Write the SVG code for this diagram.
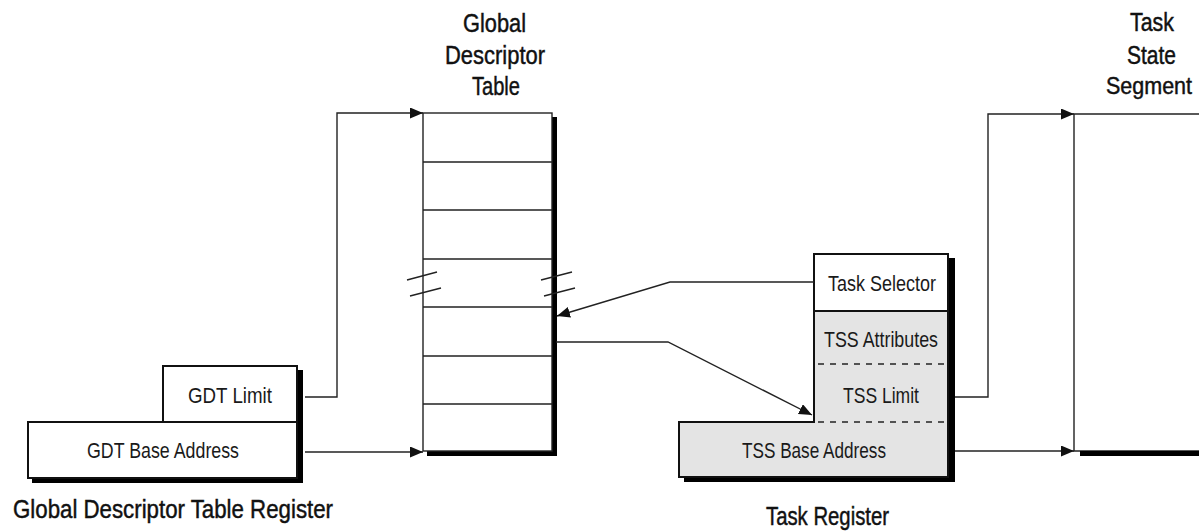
<svg xmlns="http://www.w3.org/2000/svg" width="1199" height="532" viewBox="0 0 1199 532">
<defs>
<style>
.lbl{font-family:"Liberation Sans",Arial,sans-serif;font-size:22px;fill:#1a1a1a;}
.ttl{font-family:"Liberation Sans",Arial,sans-serif;font-size:25px;fill:#111;stroke:#111;stroke-width:0.45;}
.thin{fill:none;stroke:#222;stroke-width:1.4;}
.box{stroke:#111;stroke-width:2;}
.shadow{fill:#000;}
.conn{fill:none;stroke:#222;stroke-width:1.4;}
.dash{fill:none;stroke:#222;stroke-width:1.4;stroke-dasharray:6,6;}
</style>
<marker id="arr" markerUnits="userSpaceOnUse" markerWidth="14" markerHeight="12" refX="13" refY="5.5" orient="auto">
<path d="M0,0 L13,5.5 L0,11 z" fill="#111"/>
</marker>
</defs>
<rect width="1199" height="532" fill="#fff"/>

<g id="gdtr">
<rect class="shadow" x="297" y="370" width="6" height="113"/>
<rect class="shadow" x="32" y="477" width="271" height="6"/>
<rect x="163" y="366" width="134" height="56" fill="#fff" class="box"/>
<rect x="28" y="422" width="269" height="56" fill="#fff" class="box"/>
<text class="lbl" x="188" y="403" textLength="84" lengthAdjust="spacingAndGlyphs">GDT Limit</text>
<text class="lbl" x="87" y="458" textLength="152" lengthAdjust="spacingAndGlyphs">GDT Base Address</text>
<text class="ttl" x="13" y="518" textLength="320" lengthAdjust="spacingAndGlyphs">Global Descriptor Table Register</text>
</g>

<g id="gdt">
<text class="ttl" x="463" y="32" textLength="63" lengthAdjust="spacingAndGlyphs">Global</text>
<text class="ttl" x="445" y="64" textLength="100" lengthAdjust="spacingAndGlyphs">Descriptor</text>
<text class="ttl" x="472" y="95" textLength="48" lengthAdjust="spacingAndGlyphs">Table</text>
<rect class="shadow" x="552" y="117" width="5" height="339"/>
<rect class="shadow" x="427" y="451" width="130" height="5"/>
<rect x="423" y="113" width="129" height="338" fill="#fff" class="thin"/>
<path class="thin" d="M423,162H552M423,210H552M423,259H552M423,307H552M423,356H552M423,404H552"/>
<path class="thin" d="M407,280L437,272M410,296L441,288M541,280L572,272M544,296L575,288"/>
</g>

<g id="tr">
<rect class="shadow" x="948" y="258" width="7" height="224"/>
<rect class="shadow" x="684" y="477" width="271" height="5"/>
<path d="M814,311H948V477H679V422H814Z" fill="#e4e4e4"/>
<rect x="814" y="254" width="134" height="57" fill="#fff" class="box"/>
<path class="box" fill="none" d="M814,311V422H679V477H948V311"/>
<path class="dash" d="M818,364H948M818,422H948"/>
<text class="lbl" x="828" y="291" textLength="108" lengthAdjust="spacingAndGlyphs">Task Selector</text>
<text class="lbl" x="824" y="347" textLength="114" lengthAdjust="spacingAndGlyphs">TSS Attributes</text>
<text class="lbl" x="843" y="403" textLength="76" lengthAdjust="spacingAndGlyphs">TSS Limit</text>
<text class="lbl" x="742" y="458" textLength="144" lengthAdjust="spacingAndGlyphs">TSS Base Address</text>
<text class="ttl" x="766" y="525" textLength="123" lengthAdjust="spacingAndGlyphs">Task Register</text>
</g>

<g id="tss">
<text class="ttl" x="1130" y="31" textLength="44" lengthAdjust="spacingAndGlyphs">Task</text>
<text class="ttl" x="1127" y="64" textLength="49" lengthAdjust="spacingAndGlyphs">State</text>
<text class="ttl" x="1106" y="94" style="font-size:23px" textLength="86" lengthAdjust="spacingAndGlyphs">Segment</text>
<path class="thin" d="M1199,114H1074V451H1199"/>
<rect class="shadow" x="1080" y="451" width="119" height="5"/>
</g>

<g id="connectors">
<path class="conn" d="M305,397H337V113H423" marker-end="url(#arr)"/>
<path class="conn" d="M305,452H423" marker-end="url(#arr)"/>
<path class="conn" d="M814,282H670L557,316" marker-end="url(#arr)"/>
<path class="conn" d="M556,342H668L812,415" marker-end="url(#arr)"/>
<path class="conn" d="M955,397H988V114H1074" marker-end="url(#arr)"/>
<path class="conn" d="M955,451H1074" marker-end="url(#arr)"/>
</g>
</svg>
